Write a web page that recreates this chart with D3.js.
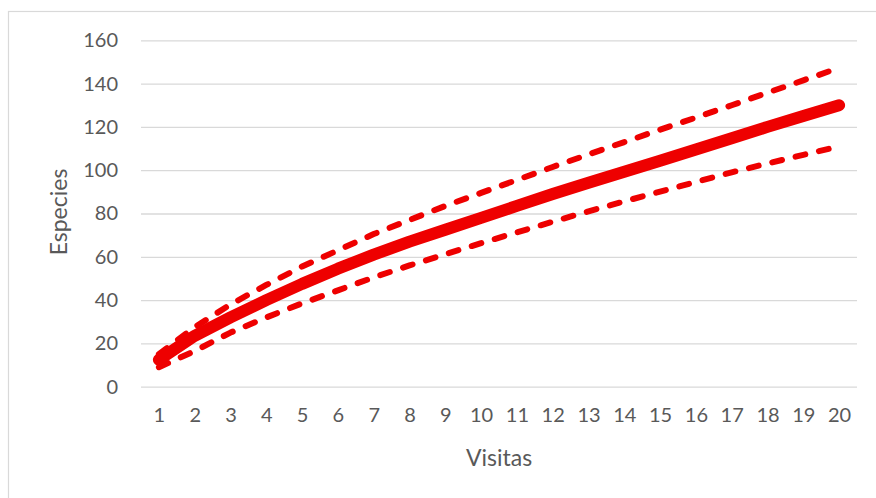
<!DOCTYPE html>
<html>
<head>
<meta charset="utf-8">
<script src="https://cdn.jsdelivr.net/npm/d3@7"></script>
<style>
  html, body { margin: 0; padding: 0; background: #fff; }
  svg { display: block; }
  text { font-family: Lato, "Open Sans", sans-serif; fill: #595959; }
</style>
</head>
<body>
<svg id="chart" width="876" height="498"></svg>
<script>
// Visits (x categories)
const visitas = d3.range(1, 21);
// Accumulated species curve
const especies = [12.5, 23.5, 32, 40, 47.5, 54.5, 61, 67, 72.5, 78, 83.5, 89, 94.2, 99.3, 104.4, 109.6, 114.8, 120, 125, 130];
// Upper and lower confidence bounds
const superior = [15, 27.5, 38, 47, 55.5, 63, 70.5, 77, 83.5, 89.5, 95.5, 101.5, 107.3, 113, 118.7, 124.3, 130, 135.8, 141.5, 147.3];
const inferior = [9, 16.5, 25, 32, 38.5, 44.5, 50.5, 56, 61.2, 66.3, 71.3, 76.2, 81, 85.6, 90.1, 94.6, 99, 103.1, 107.1, 111];
// Y axis ticks
const yTicks = [0, 20, 40, 60, 80, 100, 120, 140, 160];

const svg = d3.select("#chart");

const plot = { left: 141, right: 857, top: 40.3, bottom: 386.7 };

// Chart area frame
svg.append("rect")
  .attr("x", 8.5).attr("y", 11.5)
  .attr("width", 900).attr("height", 600)
  .attr("fill", "none").attr("stroke", "#d9d9d9").attr("stroke-width", 1.2);

const x = d3.scalePoint().domain(visitas).range([plot.left, plot.right]).padding(0.5);
const y = d3.scaleLinear().domain([0, 160]).range([plot.bottom, plot.top]);

// Horizontal gridlines + y tick labels
const yAxis = svg.append("g")
  .attr("transform", `translate(${plot.left},0)`)
  .call(d3.axisLeft(y).tickValues(yTicks).tickSize(-(plot.right - plot.left)).tickPadding(23));
yAxis.select(".domain").remove();
yAxis.selectAll(".tick line").attr("stroke", "#d9d9d9").attr("stroke-width", 1.3);
yAxis.selectAll(".tick text").attr("font-size", 20).attr("fill", "#595959")
  .style("font-family", "Lato, 'Open Sans', sans-serif");

// X tick labels
const xAxis = svg.append("g")
  .attr("transform", `translate(0,${plot.bottom})`)
  .call(d3.axisBottom(x).tickSize(0).tickPadding(21));
xAxis.select(".domain").remove();
xAxis.selectAll(".tick text").attr("font-size", 20).attr("fill", "#595959")
  .style("font-family", "Lato, 'Open Sans', sans-serif");

// Axis titles
svg.append("text")
  .attr("x", (plot.left + plot.right) / 2).attr("y", 466)
  .attr("text-anchor", "middle").attr("font-size", 23)
  .text("Visitas");
svg.append("text")
  .attr("transform", "translate(67,212) rotate(-90)")
  .attr("text-anchor", "middle").attr("font-size", 23)
  .text("Especies");

const line = d3.line().x((d, i) => x(visitas[i])).y(d => y(d));
const red = "#ee0000";

// Confidence bounds (dashed)
[superior, inferior].forEach(s => {
  svg.append("path")
    .datum(s)
    .attr("d", line)
    .attr("fill", "none")
    .attr("stroke", red)
    .attr("stroke-width", 6)
    .attr("stroke-dasharray", "10,14")
    .attr("stroke-linecap", "round")
    .attr("stroke-linejoin", "round");
});

// Main species curve
svg.append("path")
  .datum(especies)
  .attr("d", line)
  .attr("fill", "none")
  .attr("stroke", red)
  .attr("stroke-width", 12)
  .attr("stroke-linecap", "round")
  .attr("stroke-linejoin", "round");
</script>
</body>
</html>
